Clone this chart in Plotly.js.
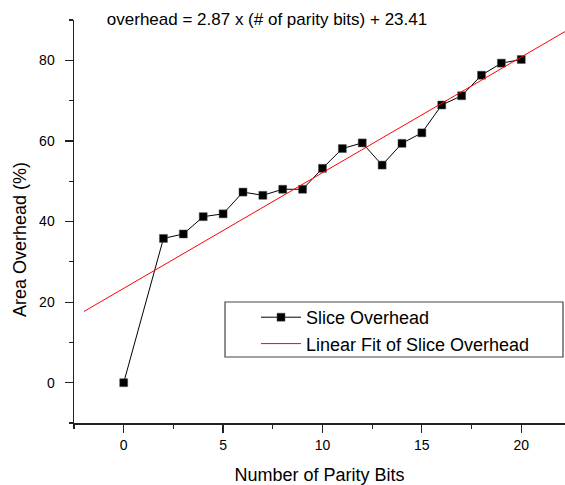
<!DOCTYPE html>
<html>
<head>
<meta charset="utf-8">
<script src="https://cdn.plot.ly/plotly-3.0.1.min.js"></script>
<style>html,body{margin:0;padding:0;background:#fff;overflow:hidden}</style>
</head>
<body>
<div id="chart" style="width:565px;height:485px"></div>
<script>
// Data
var parityBits = [0, 2, 3, 4, 5, 6, 7, 8, 9, 10, 11, 12, 13, 14, 15, 16, 17, 18, 19, 20];
var sliceOverhead = [0, 35.8, 36.9, 41.2, 41.9, 47.3, 46.5, 48.0, 48.0, 53.2, 58.1, 59.5, 54.0, 59.4, 62.0, 68.9, 71.2, 76.3, 79.3, 80.2];
var fitX = [-2, 22.5];
var fitY = [17.67, 87.99];
var titleText = "overhead = 2.87 x (# of parity bits) + 23.41";
var xTickVals = [0, 5, 10, 15, 20];
var yTickVals = [0, 20, 40, 60, 80];

var FONT = "Liberation Sans, Arial, sans-serif";
var W = 565, H = 485, L = 74, T = 20, B = 62, R = 0;
var pw = W - L - R, ph = H - T - B;
function px2x(p){ return (p - L) / pw; }
function py2y(p){ return (H - B - p) / ph; }

var traces = [
  {
    x: parityBits, y: sliceOverhead, type: "scatter", mode: "lines+markers",
    name: "Slice Overhead",
    line: {color: "#000", width: 1},
    marker: {symbol: "square", size: 8, color: "#000", line: {color: "#555", width: 0.5}},
    cliponaxis: true
  },
  {
    x: fitX, y: fitY, type: "scatter", mode: "lines",
    name: "Linear Fit of Slice Overhead",
    line: {color: "#ff0000", width: 1}
  }
];

var axisCommon = {
  showgrid: false, zeroline: false, showline: true, linecolor: "#222", linewidth: 1.5,
  ticks: "outside", ticklen: 8, tickwidth: 1.2, tickcolor: "#222",
  tickfont: {family: FONT, size: 14, color: "#000"}
};

var layout = {
  width: W, height: H,
  margin: {l: L, r: R, t: T, b: B},
  paper_bgcolor: "#fff", plot_bgcolor: "#fff",
  font: {family: FONT, color: "#000"},
  title: {text: titleText, font: {family: FONT, size: 17, color: "#000"},
          x: 267 / W, xanchor: "center", xref: "container",
          y: 1 - 19 / H, yanchor: "middle", yref: "container"},
  xaxis: Object.assign({}, axisCommon, {
    range: [-2.5, 22.2], tickvals: xTickVals, ticktext: xTickVals.map(String),
    ticklabelstandoff: 1,
    minor: {tickvals: [-2.5, 2.5, 7.5, 12.5, 17.5], ticks: "outside", ticklen: 4, tickwidth: 1.2, tickcolor: "#222"},
    title: {text: "Number of Parity Bits", font: {family: FONT, size: 18, color: "#000"}, standoff: 22}
  }),
  yaxis: Object.assign({}, axisCommon, {
    range: [-10, 90], tickvals: yTickVals, ticktext: yTickVals.map(String),
    ticklabelstandoff: 7,
    minor: {tickvals: [-10, 10, 30, 50, 70, 90], ticks: "outside", ticklen: 4, tickwidth: 1.2, tickcolor: "#222"}
  }),
  showlegend: true,
  legend: {
    x: px2x(256), xanchor: "left", y: py2y(299), yanchor: "top",
    bgcolor: "rgba(0,0,0,0)", borderwidth: 0, itemwidth: 40,
    font: {family: FONT, size: 18, color: "#000"},
    tracegroupgap: 0
  },
  shapes: [{
    type: "rect", xref: "paper", yref: "paper",
    x0: px2x(225), x1: px2x(563), y0: py2y(357), y1: py2y(302),
    line: {color: "#444", width: 1.2}, fillcolor: "rgba(0,0,0,0)", layer: "below"
  }],
  annotations: [{
    text: "Area Overhead (%)", textangle: -90, showarrow: false,
    xref: "paper", yref: "paper", x: px2x(20), y: py2y(240),
    xanchor: "center", yanchor: "middle",
    font: {family: FONT, size: 18, color: "#000"}
  }]
};

Plotly.newPlot("chart", traces, layout, {displayModeBar: false, staticPlot: true});
</script>
</body>
</html>
